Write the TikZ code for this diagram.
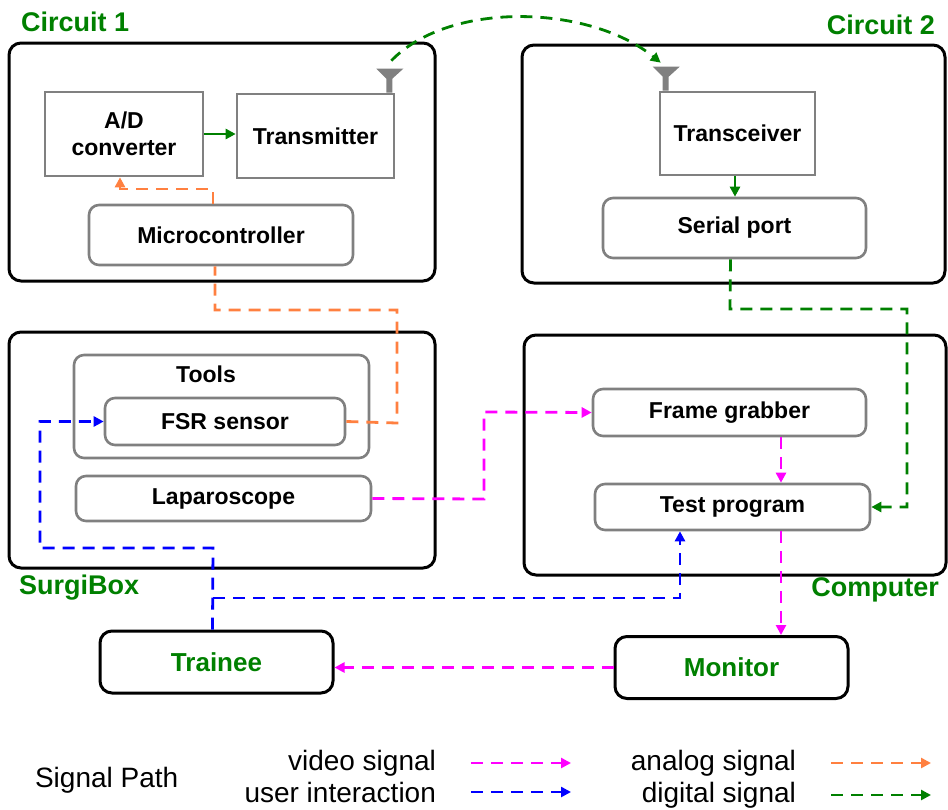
\documentclass[tikz,border=0pt]{standalone}
\usepackage{fontspec}
\setmainfont{Liberation Sans}
\usetikzlibrary{arrows.meta}

\definecolor{sigGreen}{RGB}{0,128,0}
\definecolor{sigOrange}{RGB}{255,128,64}
\definecolor{sigMagenta}{RGB}{255,0,255}
\definecolor{sigBlue}{RGB}{0,0,255}

% little dish antenna standing on a box edge
\newcommand{\antenna}[1]{\fill[gray,shift={(#1)}] (-13,-24) -- (14,-24) -- (3,-14) -- (3,0) -- (-3,0) -- (-3,-14) -- cycle;}

\begin{document}
\begin{tikzpicture}[x=0.5pt,y=-0.5pt,
    >={Triangle[length=5pt,width=5pt]},
    group/.style={draw,line width=1.5pt,rounded corners=6pt,inner sep=0pt},
    grouplbl/.style={text=sigGreen,font=\bfseries\fontsize{13.5}{16}\selectfont},
    unit/.style={draw=gray,line width=1.3pt,inner sep=0pt,font=\bfseries\fontsize{11.5}{13.5}\selectfont},
    runit/.style={unit,rounded corners=5pt},
    person/.style={draw,line width=1.5pt,rounded corners=6pt,text=sigGreen,font=\bfseries\fontsize{13}{15}\selectfont},
    sig/.style={dash pattern=on 6pt off 4pt,line width=1.4pt},
    video/.style={sig,sigMagenta},
    user/.style={sig,sigBlue},
    analog/.style={sig,sigOrange},
    digital/.style={sig,sigGreen},
    legtxt/.style={anchor=east,font=\fontsize{14}{16}\selectfont}]
    \useasboundingbox (0,0) rectangle (948,809);

    % circuit 1
    \node[group,minimum width=213pt,minimum height=119pt] (c1) at (222,162) {};
    \node[grouplbl,anchor=west] (c1lbl) at (14,22) {Circuit 1};
    \node[unit,minimum width=79pt,minimum height=42pt,align=center] (adc) at (124,134) {A/D\\converter};
    \node[unit,minimum width=78.5pt,minimum height=42pt] (tx) at (315.5,136) {Transmitter};
    \node[runit,minimum width=132pt,minimum height=30pt] (micro) at (221,235) {Microcontroller};

    % circuit 2
    \node[group,minimum width=211.5pt,minimum height=119pt] (c2) at (733.5,164) {};
    \node[grouplbl,anchor=east] (c2lbl) at (942,25) {Circuit 2};
    \node[unit,minimum width=77.5pt,minimum height=41.5pt] (trx) at (737.5,133.5) {Transceiver};
    \node[runit,minimum width=131.5pt,minimum height=30pt] (serial) at (734.5,228) {Serial port};

    % surgibox
    \node[group,minimum width=213pt,minimum height=118pt] (box) at (222,450) {};
    \node[grouplbl,anchor=west] (boxlbl) at (12,588) {SurgiBox};
    \node[runit,minimum width=147.5pt,minimum height=51.5pt] (tools) at (221.5,406.5) {};
    \node[font=\bfseries\fontsize{11.5}{13.5}\selectfont] (toolslbl) at (206,374) {Tools};
    \node[runit,minimum width=120pt,minimum height=23.5pt] (fsr) at (225,421.5) {FSR sensor};
    \node[runit,minimum width=147.5pt,minimum height=22.5pt] (lap) at (223.5,498.5) {Laparoscope};

    % computer
    \node[group,minimum width=211pt,minimum height=120pt] (comp) at (735,455) {};
    \node[grouplbl,anchor=east] (complbl) at (946,590) {Computer};
    \node[runit,minimum width=136.5pt,minimum height=23.5pt] (fg) at (729.5,412.5) {Frame grabber};
    \node[runit,minimum width=137.5pt,minimum height=23pt] (tp) at (732.5,507) {Test program};

    \node[person,minimum width=116.5pt,minimum height=31pt] (trainee) at (216.5,662) {Trainee};
    \node[person,minimum width=116.5pt,minimum height=31pt] (monitor) at (731.5,667.5) {Monitor};

    % antennas and radio link
    \path (tx.north east) ++(-6,0) coordinate (txant);
    \path (trx.north west) ++(7,0) coordinate (trxant);
    \antenna{txant}
    \antenna{trxant}
    \path (txant) ++(2,-32) coordinate (txtip);
    \path (trxant) ++(-5,-28) coordinate (trxtip);
    \draw[digital,->] (txtip) .. controls (450,0) and (590,5) .. (trxtip);

    % solid links
    \draw[sigGreen,line width=1.4pt,->] (adc) -- (adc.east -| tx.west);
    \draw[sigGreen,line width=1.4pt,->] (trx.south -| 735,0) -- (serial.north -| 735,0);

    % analog path
    \draw[analog] (fsr.east) -- (397,423) -- (397,310) -- (215,310) -- ([xshift=-3pt]micro.south);
    \draw[analog,->] ([xshift=-4pt]micro.north) -- (213,189) -- (120,189) -- (adc.south -| 120,0);

    % digital path
    \draw[digital,->] ([xshift=-2pt]serial.south) -- (730,309) -- (907,309) -- (907,507) -- (tp.east);

    % video path
    \coordinate (vx) at (781,0);
    \draw[video,->] (lap.east) -- (484,499) -- (484,412) -- (fg.west);
    \draw[video,->] (fg.south -| vx) -- (tp.north -| vx);
    \draw[video,->] (tp.south -| vx) -- (monitor.north -| vx);
    \draw[video,->] (monitor.west) -- (trainee.east |- monitor.west);

    % user interaction
    \coordinate (branch) at (213,598);
    \draw[user,->] ([xshift=-2pt]trainee.north) -- (213,548) -- (40,548) -- (40,421.5) -- (fsr.west);
    \draw[user,->] (branch) -- (680,598) -- (tp.south -| 680,0);

    % legend
    \node[font=\fontsize{14}{16}\selectfont,anchor=west] (leg) at (28,780) {Signal Path};
    \node[legtxt] (lvid) at (443,763) {video signal};
    \node[legtxt] (lusr) at (443,792) {user interaction};
    \node[legtxt] (lana) at (803,763) {analog signal};
    \node[legtxt] (ldig) at (803,795) {digital signal};
    \draw[video,->] ([xshift=14pt]lvid.east) -- ++(100,0);
    \draw[user,->] ([xshift=14pt]lusr.east) -- ++(100,0);
    \draw[analog,->] ([xshift=14pt]lana.east) -- ++(100,0);
    \draw[digital,->] ([xshift=14pt]ldig.east) -- ++(100,0);
\end{tikzpicture}
\end{document}
